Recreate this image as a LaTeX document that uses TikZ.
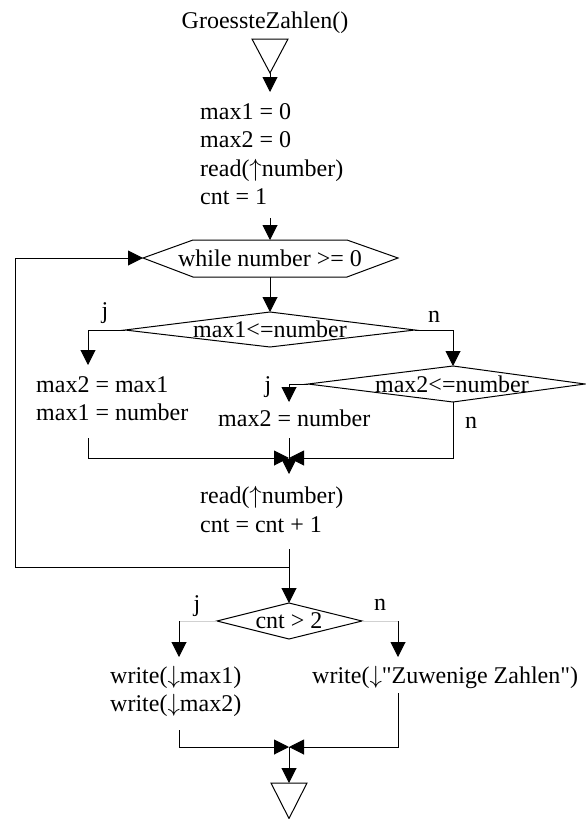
\documentclass[tikz,border=0pt]{standalone}
\usepackage{fontspec}
\setmainfont{Liberation Serif}[Ligatures=TeXOff]
\usetikzlibrary{arrows.meta}
\newcommand{\upar}{\ensuremath{\uparrow}}
\newcommand{\dnar}{\ensuremath{\downarrow}}
\tikzset{
  ln/.style={line width=1pt, line join=miter},
  arr/.style={ln, -{Triangle[length=15pt,width=15pt]}},
  txt/.style={font=\fontsize{24}{28}\selectfont, inner sep=0pt, anchor=base west},
  ctxt/.style={txt, anchor=base},
  faint/.style={line width=0.8pt, black!18},
}
\begin{document}
\begin{tikzpicture}[x=1pt,y=-1pt]
\useasboundingbox (0,0) rectangle (586,819);

% ---------- texts ----------
\node[ctxt] (title) at (265,28) {GroessteZahlen()};
\node[txt] (i1) at (200,119) {max1 = 0};
\node[txt] (i2) at (200,147.5) {max2 = 0};
\node[txt] (i3) at (200,176) {read(\upar number)};
\node[txt] (i4) at (200,204.5) {cnt = 1};
\node[ctxt] (wtxt) at (270,266) {while number >= 0};
\node[ctxt] (d1txt) at (270,337) {max1<=number};
\node[ctxt] (j1) at (105,318) {j};
\node[ctxt] (n1) at (434,322) {n};
\node[ctxt] (d2txt) at (452,392) {max2<=number};
\node[ctxt] (j2l) at (268,392) {j};
\node[ctxt] (n2) at (471,428) {n};
\node[txt] (s1t) at (36,392) {max2 = max1};
\node[txt] (s2t) at (36,420) {max1 = number};
\node[txt] (s3t) at (218,426) {max2 = number};
\node[txt] (r1) at (200,503) {read(\upar number)};
\node[txt] (r2) at (200,532) {cnt = cnt + 1};
\node[ctxt] (d3txt) at (289,628) {cnt > 2};
\node[ctxt] (j3) at (197,611) {j};
\node[ctxt] (n3) at (380,610) {n};
\node[txt] (w1) at (110,683) {write(\dnar max1)};
\node[txt] (w2) at (110,711) {write(\dnar max2)};
\node[txt] (w3) at (312,683) {write(\dnar"Zuwenige Zahlen")};

% ---------- coordinates ----------
\coordinate (s1) at (252,39);
\coordinate (s2) at (288,39);
\coordinate (s3) at (270,73);
\coordinate (a1) at (270,92);
\coordinate (a2) at (270,218);
\coordinate (hT) at (270,240);
\coordinate (hB) at (270,277);
\coordinate (hL) at (143,258);
\coordinate (hTL) at (193,240);
\coordinate (hTR) at (347,240);
\coordinate (hR) at (398,258);
\coordinate (hBR) at (347,277);
\coordinate (hBL) at (193,277);
\coordinate (d1T) at (270,312);
\coordinate (d1L) at (125,330);
\coordinate (d1R) at (415,330);
\coordinate (d1B) at (270,347);
\coordinate (d1Lc) at (88,330);
\coordinate (b1) at (88,365);
\coordinate (d1Rc) at (453,330);
\coordinate (d2T) at (453,366);
\coordinate (d2L) at (308,384);
\coordinate (d2R) at (585,384);
\coordinate (d2B) at (453,402);
\coordinate (d2Lc) at (289,384);
\coordinate (b2) at (289,402);
\coordinate (l1) at (88,438);
\coordinate (l1c) at (88,458);
\coordinate (m1) at (289,458);
\coordinate (r1c) at (453,458);
\coordinate (c1) at (289,438);
\coordinate (m1e) at (289,474);
\coordinate (c2) at (289,549);
\coordinate (jn) at (289,567);
\coordinate (lp1) at (15,567);
\coordinate (lp2) at (15,258);
\coordinate (d3T) at (289,603);
\coordinate (d3L) at (217,621);
\coordinate (d3R) at (362,621);
\coordinate (d3B) at (289,639);
\coordinate (d3Lc) at (179,621);
\coordinate (b3) at (179,657);
\coordinate (d3Rc) at (398,621);
\coordinate (b4) at (398,657);
\coordinate (l2) at (179,730);
\coordinate (l2c) at (179,747);
\coordinate (m2) at (289,747);
\coordinate (r2) at (398,693);
\coordinate (r2c) at (398,747);
\coordinate (m2e) at (289,783);
\coordinate (e1) at (271,783);
\coordinate (e2) at (307,783);
\coordinate (e3) at (289,818.5);

% ---------- shapes ----------
\draw[ln] (s1) -- (s2) -- (s3) -- cycle;
\draw[ln] (hL) -- (hTL) -- (hTR) -- (hR) -- (hBR) -- (hBL) -- cycle;
\draw[ln] (d1T) -- (d1R) -- (d1B) -- (d1L) -- cycle;
\draw[ln] (d2T) -- (d2R) -- (d2B) -- (d2L) -- cycle;
\draw[ln] (d3T) -- (d3R) -- (d3B) -- (d3L) -- cycle;
\draw[ln] (e1) -- (e2) -- (e3) -- cycle;

% ---------- connectors ----------
\draw[arr] (s3) -- (a1);
\draw[arr] (a2) -- (hT);
\draw[arr] (hB) -- (d1T);
\draw[arr] (d1L) -- (d1Lc) -- (b1);
\draw[arr] (d1R) -- (d1Rc) -- (d2T);
\draw[arr] (d2L) -- (d2Lc) -- (b2);
\draw[arr] (l1) -- (l1c) -- (m1);
\draw[arr] (d2B) -- (r1c) -- (m1);
\draw[arr] (c1) -- (m1e);
\draw[arr] (jn) -- (lp1) -- (lp2) -- (hL);
\draw[arr] (c2) -- (d3T);
\draw[faint] (d3L) -- (d3Lc);
\draw[faint] (d3R) -- (d3Rc);
\draw[arr] (d3Lc) -- (b3);
\draw[arr] (d3Rc) -- (b4);
\draw[arr] (l2) -- (l2c) -- (m2);
\draw[arr] (r2) -- (r2c) -- (m2);
\draw[arr] (m2) -- (m2e);
\end{tikzpicture}
\end{document}
